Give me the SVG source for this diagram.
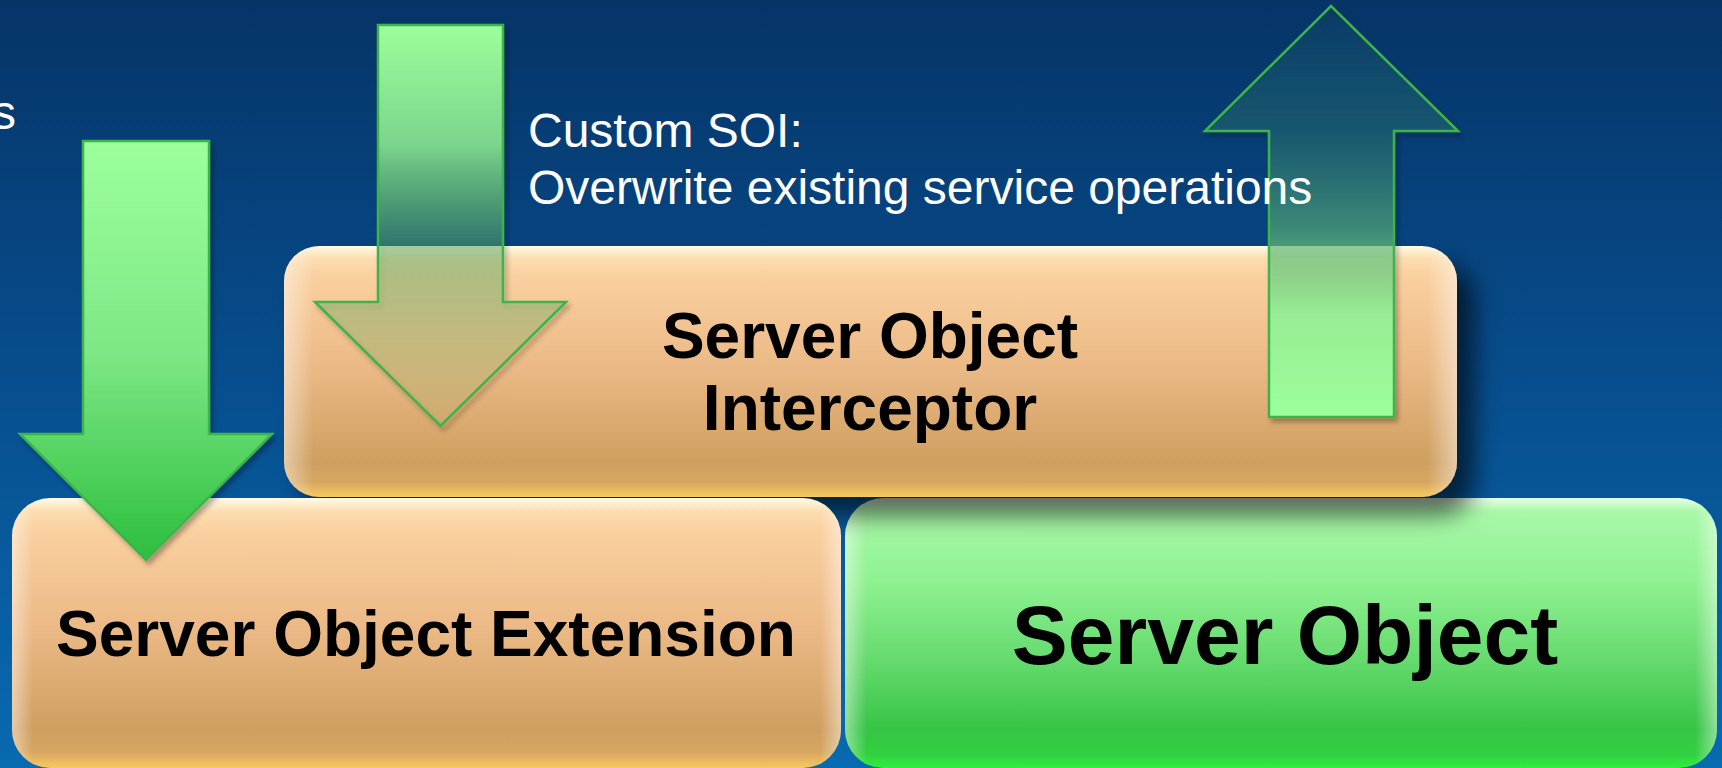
<svg xmlns="http://www.w3.org/2000/svg" width="1722" height="768" viewBox="0 0 1722 768">
<style>
.lbl{font-family:"Liberation Sans",Arial,Helvetica,sans-serif;font-weight:bold;fill:#000;text-anchor:middle}
.note{font-family:"Liberation Sans",Arial,Helvetica,sans-serif;fill:#fff;font-size:48px}
.arrow{stroke:#3CB44A;stroke-width:2.5;stroke-linejoin:miter}
</style>
<defs>
<linearGradient id="bg" x1="0" y1="0" x2="0" y2="1">
<stop offset="0" stop-color="#063467"/>
<stop offset="0.5" stop-color="#074E8E"/>
<stop offset="1" stop-color="#086AB0"/>
</linearGradient>
<linearGradient id="peach" x1="0" y1="0" x2="0" y2="1">
<stop offset="0" stop-color="#FFFCE6"/>
<stop offset="0.05" stop-color="#FCDDB0"/>
<stop offset="0.12" stop-color="#FAD0A0"/>
<stop offset="0.5" stop-color="#EAB884"/>
<stop offset="0.86" stop-color="#CF9F60"/>
<stop offset="0.94" stop-color="#D6A662"/>
<stop offset="1" stop-color="#F8C860"/>
</linearGradient>
<linearGradient id="green" x1="0" y1="0" x2="0" y2="1">
<stop offset="0" stop-color="#E8FFE8"/>
<stop offset="0.05" stop-color="#A8F8A8"/>
<stop offset="0.3" stop-color="#90F292"/>
<stop offset="0.6" stop-color="#66DA6E"/>
<stop offset="0.86" stop-color="#36C446"/>
<stop offset="0.95" stop-color="#32D040"/>
<stop offset="1" stop-color="#30F040"/>
</linearGradient>
<linearGradient id="sideGloss" x1="0" y1="0" x2="1" y2="0">
<stop offset="0" stop-color="#fff" stop-opacity="0.45"/>
<stop offset="0.025" stop-color="#fff" stop-opacity="0"/>
<stop offset="0.975" stop-color="#fff" stop-opacity="0"/>
<stop offset="1" stop-color="#fff" stop-opacity="0.45"/>
</linearGradient>
<linearGradient id="leftArrow" gradientUnits="userSpaceOnUse" x1="0" y1="141" x2="0" y2="560">
<stop offset="0" stop-color="#9CFF9C"/>
<stop offset="0.5" stop-color="#7EE886"/>
<stop offset="1" stop-color="#2CBE3E"/>
</linearGradient>
<linearGradient id="midArrow" gradientUnits="userSpaceOnUse" x1="0" y1="25" x2="0" y2="426">
<stop offset="0" stop-color="#9CFF9C" stop-opacity="1"/>
<stop offset="0.3" stop-color="#80DC8E" stop-opacity="0.95"/>
<stop offset="0.55" stop-color="#5AB068" stop-opacity="0.45"/>
<stop offset="1" stop-color="#70C060" stop-opacity="0.05"/>
</linearGradient>
<linearGradient id="upArrow" gradientUnits="userSpaceOnUse" x1="0" y1="417" x2="0" y2="6">
<stop offset="0" stop-color="#9CFF9C" stop-opacity="1"/>
<stop offset="0.25" stop-color="#96F096" stop-opacity="0.95"/>
<stop offset="0.45" stop-color="#60B87A" stop-opacity="0.6"/>
<stop offset="0.7" stop-color="#3A9070" stop-opacity="0.3"/>
<stop offset="1" stop-color="#3A9070" stop-opacity="0.05"/>
</linearGradient>
<filter id="boxShadow" x="-5%" y="-10%" width="115%" height="135%">
<feGaussianBlur in="SourceAlpha" stdDeviation="12"/>
<feOffset dx="18" dy="18" result="b"/>
<feFlood flood-color="#000" flood-opacity="0.6"/>
<feComposite in2="b" operator="in"/>
<feMerge><feMergeNode/><feMergeNode in="SourceGraphic"/></feMerge>
</filter>
<filter id="arrowShadow" x="-10%" y="-10%" width="130%" height="130%">
<feGaussianBlur in="SourceAlpha" stdDeviation="2.5"/>
<feOffset dx="3" dy="4" result="b"/>
<feFlood flood-color="#000" flood-opacity="0.3"/>
<feComposite in2="b" operator="in"/>
<feMerge><feMergeNode/><feMergeNode in="SourceGraphic"/></feMerge>
</filter>
</defs>

<rect x="0" y="0" width="1722" height="768" fill="url(#bg)"/>

<g id="node-server-object">
<rect x="845" y="498" width="872" height="270" rx="38" fill="url(#green)"/>
<rect x="845" y="498" width="872" height="270" rx="38" fill="url(#sideGloss)"/>
<text class="lbl" x="1285" y="664" font-size="84">Server Object</text>
</g>

<g id="node-soi">
<g filter="url(#boxShadow)">
<rect x="284" y="246" width="1173" height="251" rx="35" fill="url(#peach)"/>
</g>
<rect x="284" y="246" width="1173" height="251" rx="35" fill="url(#sideGloss)"/>
<text class="lbl" x="870" y="358" font-size="64">Server Object</text>
<text class="lbl" x="870" y="430" font-size="64">Interceptor</text>
</g>

<g id="node-soe">
<rect x="12" y="498" width="829" height="270" rx="38" fill="url(#peach)"/>
<rect x="12" y="498" width="829" height="270" rx="38" fill="url(#sideGloss)"/>
<text class="lbl" x="426" y="656" font-size="64">Server Object Extension</text>
</g>

<g id="connectors">
<path class="arrow" filter="url(#arrowShadow)" fill="url(#leftArrow)" d="M83,141 H209 V434 H272 L146,560 L20,434 H83 Z"/>
<path class="arrow" filter="url(#arrowShadow)" fill="url(#midArrow)" d="M378,25 H503 V302 H566 L440.5,426 L315,302 H378 Z"/>
<path class="arrow" filter="url(#arrowShadow)" fill="url(#upArrow)" d="M1269,417 H1394 V131 H1458 L1331,6 L1205,131 H1269 Z"/>
</g>

<g id="labels">
<text class="note" x="16" y="129" text-anchor="end">s</text>
<text class="note" x="528" y="147">Custom SOI:</text>
<text class="note" x="528" y="204">Overwrite existing service operations</text>
</g>
</svg>
